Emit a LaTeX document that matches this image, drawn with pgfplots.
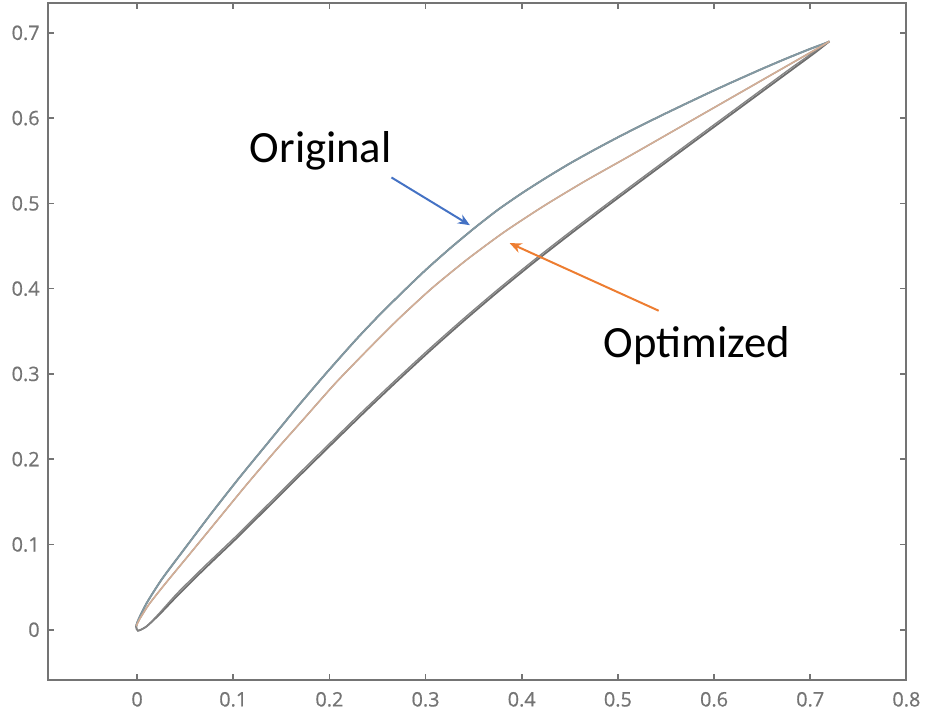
\documentclass[border=0pt]{standalone}
\usepackage{pgfplots}
\pgfplotsset{compat=1.18}
\usetikzlibrary{arrows.meta}
\usepackage{fontspec}
\setmainfont{Open Sans}
\newfontfamily\tickfont{Open Sans}[FakeBold=0.6]
\newfontfamily\calloutfont{Carlito}
\definecolor{axisgray}{HTML}{747474}
\definecolor{origcol}{HTML}{8299A3}
\definecolor{optcol}{HTML}{D3AE96}
\definecolor{lowcol}{HTML}{6E6E6E}
\definecolor{arrowblue}{HTML}{4472C4}
\definecolor{arroworange}{HTML}{ED7D31}

% Section outlines (x, y): upper side from trailing edge to nose, then lower side back
\pgfplotstableread{
x y
0.7200 0.6900
0.7150 0.6875
0.7000 0.6812
0.6750 0.6698
0.6500 0.6578
0.6250 0.6453
0.6000 0.6325
0.5750 0.6192
0.5500 0.6057
0.5250 0.5918
0.5000 0.5775
0.4750 0.5625
0.4500 0.5468
0.4250 0.5298
0.4000 0.5118
0.3750 0.4923
0.3500 0.4703
0.3250 0.4468
0.3000 0.4218
0.2750 0.3948
0.2500 0.3668
0.2271 0.3395
0.1960 0.3000
0.1655 0.2597
0.1357 0.2187
0.1059 0.1777
0.0769 0.1360
0.0485 0.0936
0.0259 0.0595
0.0105 0.0323
0.0017 0.0127
-0.0010 0.0040
0.0010 -0.0012
0.0100 0.0040
0.0237 0.0185
0.0432 0.0414
0.0699 0.0712
0.1039 0.1078
0.1371 0.1450
0.1703 0.1822
0.2035 0.2190
0.2368 0.2556
0.2700 0.2911
0.3039 0.3264
0.3392 0.3617
0.3752 0.3963
0.4119 0.4301
0.4500 0.4636
0.4888 0.4968
0.5275 0.5293
0.5663 0.5617
0.6051 0.5939
0.6439 0.6261
0.6819 0.6576
0.7049 0.6767
0.7200 0.6900
}\origtable

\pgfplotstableread{
x y
0.7200 0.6900
0.7042 0.6795
0.6792 0.6634
0.6369 0.6361
0.5940 0.6084
0.5511 0.5807
0.5075 0.5526
0.4646 0.5253
0.4223 0.4965
0.3815 0.4662
0.3434 0.4344
0.3067 0.4006
0.2721 0.3647
0.2389 0.3273
0.2063 0.2892
0.1752 0.2496
0.1440 0.2100
0.1136 0.1698
0.0838 0.1288
0.0540 0.0878
0.0301 0.0551
0.0126 0.0301
0.0024 0.0120
-0.0008 0.0040
0.0010 -0.0010
0.0100 0.0040
0.0230 0.0192
0.0418 0.0428
0.0685 0.0726
0.1025 0.1092
0.1357 0.1464
0.1689 0.1836
0.2021 0.2204
0.2354 0.2570
0.2686 0.2925
0.3025 0.3278
0.3378 0.3631
0.3738 0.3977
0.4105 0.4315
0.4486 0.4650
0.4874 0.4982
0.5261 0.5307
0.5649 0.5631
0.6037 0.5953
0.6425 0.6275
0.6805 0.6590
0.7040 0.6776
0.7200 0.6900
}\opttable

\begin{document}
\begin{tikzpicture}
\begin{axis}[
  scale only axis,
  width=432.5pt, height=341pt,
  xmin=-0.093, xmax=0.8,
  ymin=-0.059, ymax=0.735,
  xtick={0,0.1,...,0.8},
  ytick={0,0.1,...,0.7},
  tick align=inside,
  major tick length=3pt,
  axis line style={axisgray, line width=1.1pt},
  every tick/.style={axisgray, line width=0.8pt},
  tick label style={font=\tickfont\fontsize{10}{11}\selectfont, text=axisgray},
  /pgf/number format/assume math mode=true,
  xticklabel style={yshift=-2.5pt},
  yticklabel style={xshift=-0.5pt},
  clip=false,
]
% lower surfaces first, upper surfaces drawn over them
\addplot[lowcol, line width=0.9pt, smooth, tension=0.4] table[x=x, y=y] {\origtable};
\addplot[lowcol!85, line width=0.7pt, smooth, tension=0.4] table[x=x, y=y] {\opttable};
\addplot[origcol, line width=0.9pt, smooth, tension=0.4] table[x=x, y=y, restrict expr to domain={\coordindex}{0:31}] {\origtable};
\addplot[optcol, line width=0.8pt, smooth, tension=0.4] table[x=x, y=y, restrict expr to domain={\coordindex}{0:23}] {\opttable};

\node[font=\calloutfont\fontsize{22.5}{24}\selectfont, text=black] at (axis cs:0.191,0.562) {Original};
\node[font=\calloutfont\fontsize{22.5}{24}\selectfont, text=black] at (axis cs:0.582,0.333) {Optimized};
\draw[arrowblue, line width=1pt, -{Stealth[length=6pt,width=5pt]}] (axis cs:0.2645,0.5304) -- (axis cs:0.3461,0.4744);
\draw[arroworange, line width=1pt, -{Stealth[length=6pt,width=5pt]}] (axis cs:0.5424,0.3741) -- (axis cs:0.3874,0.4534);
\end{axis}
\path[use as bounding box] (current axis.south west) ++(-24pt,-18pt) rectangle ([xshift=7pt,yshift=1.5pt]current axis.north east);
\end{tikzpicture}
\end{document}
